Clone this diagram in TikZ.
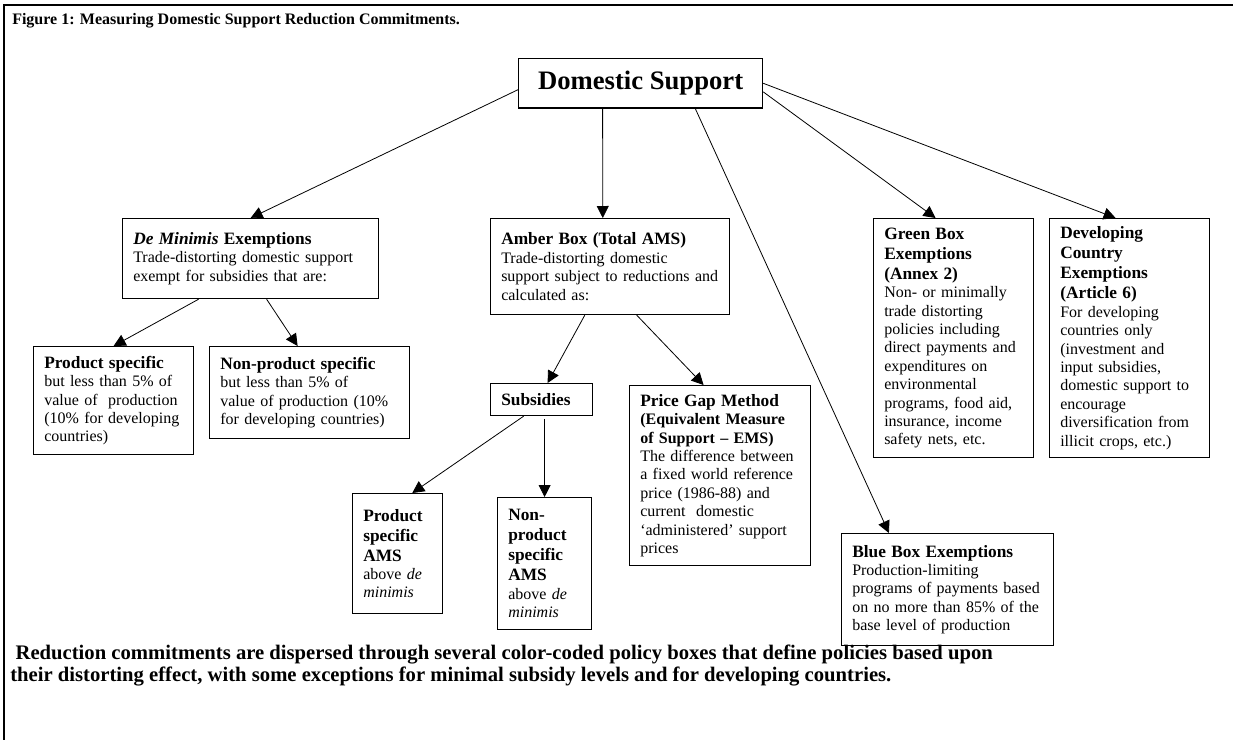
\documentclass[tikz,border=0pt]{standalone}
\usepackage{fontspec}
\setmainfont{Liberation Serif}
\usetikzlibrary{arrows.meta}
\newcommand{\boxfont}{\fontsize{12}{13.8}\selectfont}
\newcommand{\boxhead}{\fontsize{13}{15}\selectfont\bfseries}
\begin{document}
\begin{tikzpicture}[x=0.75pt, y=-0.75pt,
        box/.style={draw, line width=0.9pt, anchor=north west, align=left, inner xsep=8pt, inner ysep=0pt, font=\boxfont},
        arr/.style={-{Triangle[length=9pt, width=9pt]}, line width=0.6pt}]
        \useasboundingbox (0,0) rectangle (1233,740);
        \draw[line width=1.1pt] (1233,5) -- (4,5) -- (4,740);

        \node[anchor=west, inner sep=0pt, font=\fontsize{12}{14}\selectfont\bfseries] (title) at (12,21) {Figure 1: Measuring Domestic Support Reduction Commitments.};

        \node[draw, line width=0.9pt, anchor=north west, minimum width=183pt, minimum height=37pt, font=\fontsize{20}{24}\selectfont\bfseries] (ds) at (518,58) {Domestic Support};

        \node[box, text width=176pt, minimum height=60pt] (dm) at (122,218) {{\boxhead{\itshape De Minimis} Exemptions\par}Trade-distorting domestic support\\exempt for subsidies that are:};
        \node[box, text width=163.25pt, minimum height=72pt] (am) at (490,218) {{\boxhead Amber Box (Total AMS)\par}Trade-distorting domestic\\support subject to reductions and\\calculated as:};
        \node[box, text width=104pt, minimum height=179.25pt] (gb) at (873,218) {{\boxhead Green Box\\Exemptions\\(Annex 2)\par}Non- or minimally\\trade distorting\\policies including\\direct payments and\\expenditures on\\environmental\\programs, food aid,\\insurance, income\\safety nets, etc.};
        \node[box, text width=104pt, minimum height=179.25pt] (dc) at (1049,218) {{\boxhead Developing\\Country\\Exemptions\\(Article 6)\par}For developing\\countries only\\(investment and\\input subsidies,\\domestic support to\\encourage\\diversification from\\illicit crops, etc.)};

        \node[box, text width=104pt, minimum height=81pt] (ps) at (33,346) {{\boxhead Product specific\par}but less than 5\% of\\value of\ \ production\\(10\% for developing\\countries)};
        \node[box, text width=134pt, minimum height=69pt] (nps) at (209,346) {{\boxhead Non-product specific\par}but less than 5\% of\\value of production (10\%\\for developing countries)};

        \node[box, text width=60.5pt, minimum height=24pt, font=\boxhead] (subs) at (490,383) {Subsidies};
        \node[box, text width=119.75pt, minimum height=135pt] (pg) at (629,385) {{\boxhead Price Gap Method\par}{\bfseries (Equivalent Measure\\of Support -- EMS)\par}The difference between\\a fixed world reference\\price (1986-88) and\\current\ \ domestic\\`administered' support\\prices};

        \node[box, text width=51.5pt, minimum height=90pt] (pams) at (352,493) {{\boxhead Product\\specific\\AMS\par}above \emph{de}\\\emph{minimis}};
        \node[box, text width=54.5pt, minimum height=99pt] (npams) at (497,497) {{\boxhead Non-\\product\\specific\\AMS\par}above \emph{de}\\\emph{minimis}};

        \node[box, text width=143pt, minimum height=84pt] (bb) at (841,533) {{\boxhead Blue Box Exemptions\par}Production-limiting\\programs of payments based\\on no more than 85\% of the\\base level of production};

        \node[anchor=north west, align=left, inner sep=0pt, font=\fontsize{15.5}{16.5}\selectfont\bfseries] (note) at (10,645) {\hspace*{4pt}Reduction commitments are dispersed through several color-coded policy boxes that define policies based upon\\their distorting effect, with some exceptions for minimal subsidy levels and for developing countries.};

        \draw[arr] (ds.183) -- (dm.north);
        \draw[arr] ([xshift=-28.5pt]ds.south) -- ([xshift=-5.5pt]am.north);
        \draw[arr] ([xshift=41pt]ds.south) -- ([xshift=-44pt]bb.north);
        \draw[arr] (ds.356.5) -- ([xshift=-13.5pt]gb.north);
        \draw[arr] (ds.east) -- ([xshift=-10.5pt]dc.north);

        \draw[arr] ([xshift=-39pt]dm.south) -- (ps.north);
        \draw[arr] ([xshift=12pt]dm.south) -- ([xshift=-9pt]nps.north);
        \draw[arr] ([xshift=-19pt]am.south) -- ([xshift=4.5pt]subs.north);
        \draw[arr] ([xshift=20pt]am.south) -- ([xshift=-12.4pt]pg.north);
        \draw[arr] ([xshift=-13.5pt]subs.south) -- ([xshift=11pt]pams.north);
        \draw[arr] ([xshift=2.25pt, yshift=-2pt]subs.south) -- (npams.north);
\end{tikzpicture}
\end{document}
